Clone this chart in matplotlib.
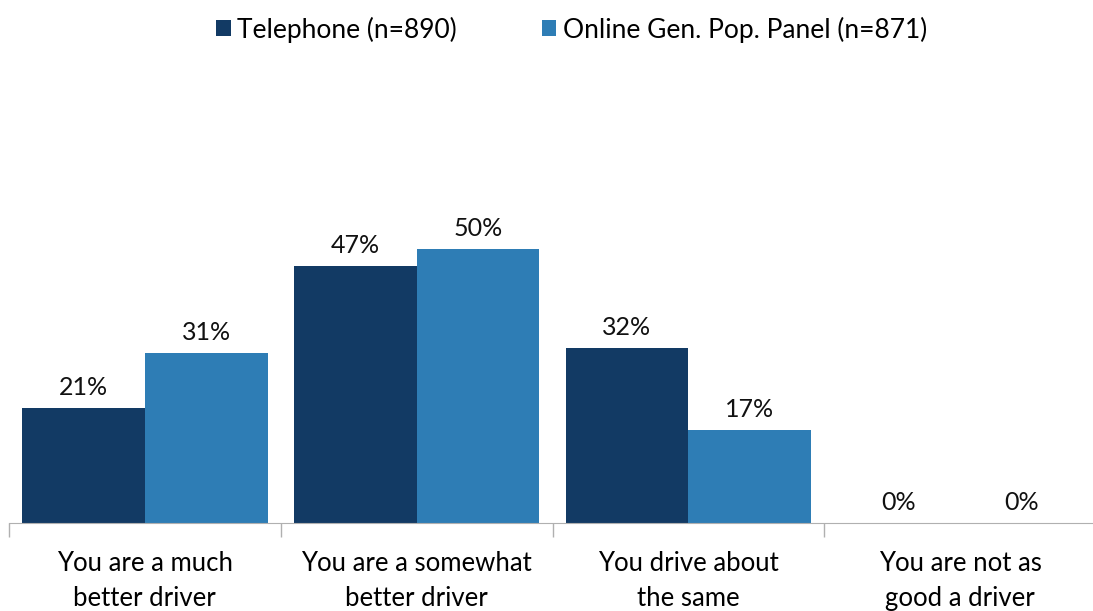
import matplotlib
matplotlib.use("Agg")
import matplotlib.pyplot as plt
import numpy as np

plt.rcParams['font.family'] = ['Lato', 'DejaVu Sans']

categories = ["You are a much\nbetter driver", "You are a somewhat\nbetter driver",
              "You drive about\nthe same", "You are not as\ngood a driver"]
telephone = [21, 47, 32, 0]
online = [31, 50, 17, 0]
series_names = ["Telephone (n=890)", "Online Gen. Pop. Panel (n=871)"]
colors = ["#123a64", "#2e7db5"]

fig = plt.figure(figsize=(10.93, 6.11), dpi=100)
ax = fig.add_axes([0.008, 0.144, 0.995, 0.717])

x = np.arange(len(categories))
w = 0.452
b1 = ax.bar(x - w / 2, telephone, w, color=colors[0], label=series_names[0])
b2 = ax.bar(x + w / 2, online, w, color=colors[1], label=series_names[1])

for bars, vals in [(b1, telephone), (b2, online)]:
    for bar, v in zip(bars, vals):
        ax.text(bar.get_x() + bar.get_width() / 2, v + 1.6, f"{v}%",
                ha='center', va='bottom', fontsize=18, color='#111111')

ax.set_xlim(-0.5, 3.5)
ax.set_ylim(0, 80)
ax.set_yticks([])
for s in ['top', 'right', 'left']:
    ax.spines[s].set_visible(False)
ax.spines['bottom'].set_color('#b0b0b0')

# category boundary ticks
ax.set_xticks(np.arange(-0.5, 3.5, 1.0))
ax.set_xticklabels([])
ax.tick_params(axis='x', length=10, color='#b0b0b0', width=1)
ax.set_xticks(x, minor=True)
ax.set_xticklabels(categories, minor=True, fontsize=18.5, linespacing=1.5)
ax.tick_params(axis='x', which='minor', length=0, pad=20)

fig.legend(loc='upper center', bbox_to_anchor=(0.523, 1.012), ncol=2, frameon=False,
           fontsize=19, handlelength=0.55, handleheight=0.55, handletextpad=0.25,
           columnspacing=3.2)

fig.savefig("out.png", dpi=100)
